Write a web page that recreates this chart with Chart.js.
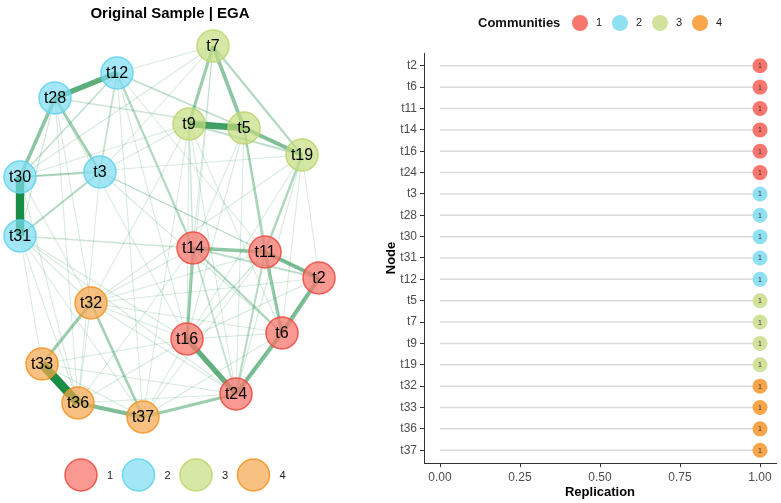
<!DOCTYPE html>
<html><head><meta charset="utf-8">
<script src="https://cdn.jsdelivr.net/npm/chart.js@4"></script>
<style>
html,body{margin:0;padding:0;background:#fff;}
#wrap{position:relative;width:781px;height:503px;background:#fff;}
#c1{position:absolute;left:0;top:0;}
#c2{position:absolute;left:380px;top:0;}
</style></head><body>
<div id="wrap">
<canvas id="c1" width="380" height="503"></canvas>
<canvas id="c2" width="401" height="503"></canvas>
</div>
<script>
// ---- data ----
const nodes = ['t2','t6','t11','t14','t16','t24','t3','t28','t30','t31','t12','t5','t7','t9','t19','t32','t33','t36','t37'];
const community = [1,1,1,1,1,1,2,2,2,2,2,3,3,3,3,4,4,4,4];
const replication = [1,1,1,1,1,1,1,1,1,1,1,1,1,1,1,1,1,1,1];
const communityLabels = ['1','2','3','4'];
const xTicks = [0,0.25,0.5,0.75,1];
// network layout (layout units)
const layoutX = [319,282,265,193,187,236,100,55,20,20,117,244,213,189,302,91,42,78,143];
const layoutY = [278,333,252,248,339,394,172,98,177,236,73,128,46,124,155,303,364,403,417];
// edges: [from, to, partial correlation]
const edges = [
 ['t33','t36',0.48],['t30','t31',0.45],['t9','t5',0.33],['t12','t28',0.27],['t16','t24',0.26],
 ['t36','t37',0.20],['t5','t19',0.20],['t11','t2',0.20],['t2','t6',0.20],['t6','t24',0.20],
 ['t28','t30',0.17],['t7','t5',0.17],['t14','t11',0.17],['t11','t6',0.15],['t7','t9',0.14],
 ['t14','t16',0.14],['t24','t37',0.14],['t32','t33',0.14],['t28','t3',0.13],['t32','t37',0.12],
 ['t5','t11',0.10],['t19','t11',0.10],['t30','t3',0.09],['t31','t3',0.09],['t7','t19',0.09],
 ['t12','t14',0.09],['t14','t6',0.09],['t11','t24',0.08],['t14','t2',0.07],['t12','t5',0.07],
 ['t9','t19',0.07],['t12','t30',0.06],['t12','t3',0.06],['t14','t24',0.06],['t28','t5',0.04],
 ['t31','t14',0.04],['t9','t14',0.04],
 ['t7','t3',0.02],['t7','t30',0.02],['t7','t12',0.02],['t7','t14',0.02],['t7','t16',0.02],
 ['t12','t16',0.02],['t12','t11',0.02],['t12','t37',0.02],['t28','t31',0.03],['t28','t36',0.02],
 ['t28','t16',0.02],['t28','t32',0.02],['t30','t32',0.02],['t30','t36',0.02],['t30','t19',0.02],
 ['t30','t9',0.02],['t31','t33',0.02],['t31','t36',0.02],['t31','t37',0.02],['t31','t16',0.02],
 ['t31','t32',0.02],['t31','t24',0.02],['t3','t9',0.02],['t3','t11',0.02],['t3','t6',0.02],
 ['t3','t36',0.02],['t3','t2',0.02],['t9','t16',0.02],['t9','t6',0.02],['t9','t24',0.02],
 ['t9','t37',0.02],['t9','t32',0.02],['t5','t16',0.02],['t5','t6',0.02],['t5','t14',0.02],
 ['t5','t24',0.02],['t19','t16',0.02],['t19','t32',0.02],['t19','t6',0.02],['t19','t24',0.02],
 ['t19','t2',0.02],['t14','t32',0.02],['t14','t36',0.02],['t11','t16',0.03],['t11','t32',0.02],
 ['t11','t37',0.02],['t2','t16',0.03],['t2','t32',0.02],['t2','t24',0.02],['t32','t16',0.02],
 ['t32','t36',0.02],['t32','t6',0.02],['t32','t24',0.02],['t33','t16',0.02],['t33','t37',0.02],
 ['t33','t24',0.02],['t36','t16',0.02],['t36','t24',0.02],['t37','t16',0.02],['t37','t6',0.02],
 ['t16','t6',0.03]
];

// ---- styles ----
Chart.defaults.font.family = '"Liberation Sans", Arial, sans-serif';
const nodeFill = ['rgba(248,118,109,0.75)','rgba(124,221,242,0.7)','rgba(197,221,128,0.7)','rgba(247,166,76,0.7)'];
const nodeBorder = ['rgba(240,70,60,0.85)','rgba(100,212,240,0.9)','rgba(190,214,110,0.9)','rgba(245,150,40,0.9)'];
const pointFill = ['#F8766D','#8FE0F3','#D2E29B','#F9A54A'];
const idx = n => nodes.indexOf(n);

// ---- left: network ----
const edgeDatasets = edges.map(([a,b,w]) => ({
  type:'line',
  data:[{x:layoutX[idx(a)], y:layoutY[idx(a)]},{x:layoutX[idx(b)], y:layoutY[idx(b)]}],
  borderColor:`rgba(25,140,70,${Math.min(1,0.14+w*2.1)})`,
  borderWidth:0.7 + w*17,
  borderCapStyle:'butt',
  pointRadius:0, fill:false, order: 10 - w*10
}));
const nodeDataset = {
  type:'scatter',
  data: nodes.map((n,i)=>({x:layoutX[i], y:layoutY[i]})),
  pointRadius:16,
  backgroundColor: community.map(c=>nodeFill[c-1]),
  borderColor: community.map(c=>nodeBorder[c-1]),
  borderWidth:1.5,
  order:0
};
const netPlugin = {
  id:'net',
  afterDatasetsDraw(chart){
    const ctx = chart.ctx;
    const meta = chart.getDatasetMeta(chart.data.datasets.length-1);
    ctx.save();
    ctx.fillStyle = '#000';
    ctx.font = '16px "Liberation Sans", Arial, sans-serif';
    ctx.textAlign = 'center'; ctx.textBaseline = 'middle';
    meta.data.forEach((el,i)=>{ ctx.fillText(nodes[i], el.x, el.y+1); });
    // title
    ctx.font = 'bold 15px "Liberation Sans", Arial, sans-serif';
    ctx.fillText('Original Sample | EGA', 170, 14);
    // legend
    communityLabels.forEach((lab,k)=>{
      const cx = 81 + k*57.5, cy = 475;
      ctx.beginPath(); ctx.arc(cx, cy, 16, 0, Math.PI*2);
      ctx.fillStyle = nodeFill[k]; ctx.fill();
      ctx.lineWidth = 1.5; ctx.strokeStyle = nodeBorder[k]; ctx.stroke();
      ctx.fillStyle = '#222'; ctx.font = '11px "Liberation Sans", Arial, sans-serif';
      ctx.fillText(lab, cx + 29, cy + 1);
    });
    ctx.restore();
  }
};
new Chart(document.getElementById('c1'), {
  type:'scatter',
  data:{ datasets:[...edgeDatasets, nodeDataset] },
  options:{
    responsive:false, animation:false, devicePixelRatio:1, events:[],
    layout:{padding:0, autoPadding:false},
    plugins:{legend:{display:false}, tooltip:{enabled:false}, title:{display:false}},
    scales:{
      x:{type:'linear', display:false, min:0, max:380},
      y:{type:'linear', display:false, min:0, max:503, reverse:true}
    }
  },
  plugins:[netPlugin]
});

// ---- right: replication dot plot ----
const segDatasets = nodes.map((n,i)=>({
  type:'line',
  data:[{x:0,y:i},{x:replication[i],y:i}],
  borderColor:'#DCDCDC', borderWidth:1.5, pointRadius:0, fill:false, order:1
}));
const dotDataset = {
  type:'scatter',
  data: nodes.map((n,i)=>({x:replication[i], y:i})),
  pointRadius:7.5, borderWidth:0,
  backgroundColor: community.map(c=>pointFill[c-1]),
  order:0
};
const repPlugin = {
  id:'rep',
  afterDatasetsDraw(chart){
    const ctx = chart.ctx;
    const meta = chart.getDatasetMeta(chart.data.datasets.length-1);
    ctx.save();
    ctx.textAlign='center'; ctx.textBaseline='middle';
    ctx.fillStyle='#333'; ctx.font='7px "Liberation Sans", Arial, sans-serif';
    meta.data.forEach((el,i)=>{ ctx.fillText(String(replication[i]), el.x, el.y+0.5); });
    // legend
    ctx.textAlign='left';
    ctx.fillStyle='#111'; ctx.font='bold 13px "Liberation Sans", Arial, sans-serif';
    ctx.fillText('Communities', 98, 23);
    communityLabels.forEach((lab,k)=>{
      const cx = 200 + k*40;
      ctx.beginPath(); ctx.arc(cx, 23, 8, 0, Math.PI*2);
      ctx.fillStyle = pointFill[k]; ctx.fill();
      ctx.fillStyle='#222'; ctx.font='11px "Liberation Sans", Arial, sans-serif';
      ctx.fillText(lab, cx + 16, 23);
    });
    ctx.restore();
  }
};
new Chart(document.getElementById('c2'), {
  type:'scatter',
  data:{ datasets:[...segDatasets, dotDataset] },
  options:{
    responsive:false, animation:false, devicePixelRatio:1, events:[],
    layout:{padding:{top:53, right:5, left:0, bottom:0}, autoPadding:false},
    plugins:{legend:{display:false}, tooltip:{enabled:false}},
    scales:{
      x:{
        type:'linear', min:-0.05, max:1.05,
        afterBuildTicks: s => { s.ticks = xTicks.map(v=>({value:v})); },
        afterFit: s => { s.height = 40; },
        ticks:{callback: v => Number(v).toFixed(2), color:'#4D4D4D', font:{size:12}, padding:3, maxRotation:0},
        grid:{drawOnChartArea:false, tickLength:4, color:'#333'},
        border:{color:'#333', width:1},
        title:{display:true, text:'Replication', color:'#000', font:{size:13, weight:'bold'}, padding:{top:0, bottom:3}}
      },
      y:{
        type:'linear', min:-0.6, max:18.6, reverse:true,
        afterBuildTicks: s => { s.ticks = nodes.map((n,i)=>({value:i})); },
        afterFit: s => { s.width = 44; },
        ticks:{callback: v => nodes[v], color:'#4D4D4D', font:{size:12}, padding:3, autoSkip:false},
        grid:{drawOnChartArea:false, tickLength:4, color:'#333'},
        border:{color:'#333', width:1},
        title:{display:true, text:'Node', color:'#000', font:{size:13, weight:'bold'}, padding:{top:4, bottom:0}}
      }
    }
  },
  plugins:[repPlugin]
});
</script>
</body></html>
